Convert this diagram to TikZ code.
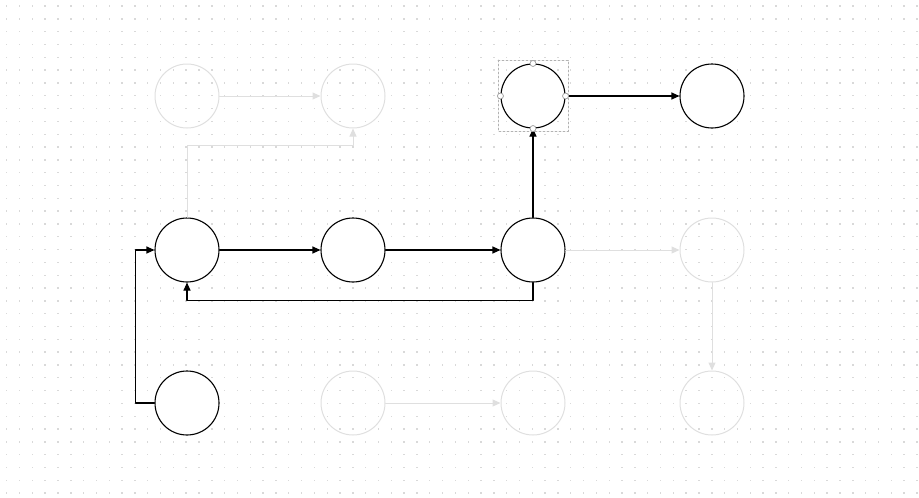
\documentclass[tikz,border=0pt]{standalone}
\usetikzlibrary{arrows.meta}
\begin{document}
\begin{tikzpicture}[x=1pt, y=-1pt, line cap=round, line join=round, >={Triangle[length=8pt,width=7pt]}]
			\tikzset{state/.style={circle, draw, line width=1.1pt, fill=white, minimum size=64pt, inner sep=0pt},
				ghost/.style={circle, draw=gray!25, line width=1pt, minimum size=64pt, inner sep=0pt},
				link/.style={->, line width=1.1pt},
				ghostlink/.style={->, draw=gray!25, line width=1pt},
				handle/.style={circle, draw=gray!80, fill=white, line width=0.7pt, minimum size=6pt, inner sep=0pt}}
			\useasboundingbox (0,0) rectangle (919,498);
			% dotted grid
			\foreach \i in {0,...,71} \foreach \j in {0,...,38}
				\fill[gray!30] ({6.7+12.82*\i-0.7},{6+12.82*\j-0.7}) rectangle ++(1.4,1.4);
			% faded states
			\node[ghost] (g) at (187,96) {};
			\node[ghost] (h) at (353,96) {};
			\node[ghost] (i) at (712,250) {};
			\node[ghost] (k) at (353,403) {};
			\node[ghost] (l) at (533,403) {};
			\node[ghost] (j) at (712,403) {};
			% active states
			\node[state] (a) at (187,250) {};
			\node[state] (b) at (353,250) {};
			\node[state] (c) at (533,250) {};
			\node[state] (d) at (533,96) {};
			\node[state] (e) at (712,96) {};
			\node[state] (f) at (187,403) {};
			% faded links
			\draw[ghostlink] (g) -- (h);
			\draw[ghostlink] (a.north) -- ++(0,-72) -| (h.south);
			\draw[ghostlink] (c) -- (i);
			\draw[ghostlink] (i) -- (j);
			\draw[ghostlink] (k) -- (l);
			% active links
			\draw[link] (a) -- (b);
			\draw[link] (b) -- (c);
			\draw[link] (c) -- (d);
			\draw[link] (d) -- (e);
			\draw[link] (c.south) -- ++(0,18) -| (a.south);
			\draw[link] (f.west) -- ++(-19,0) |- (a.west);
			% selection
			\draw[gray!60, line width=0.6pt, dash pattern=on 2pt off 2pt] (d.center) +(-35,-36) rectangle +(35,35);
			\foreach \p in {north, south, east, west}
				\node[handle] at (d.\p) {};
		\end{tikzpicture}
\end{document}
